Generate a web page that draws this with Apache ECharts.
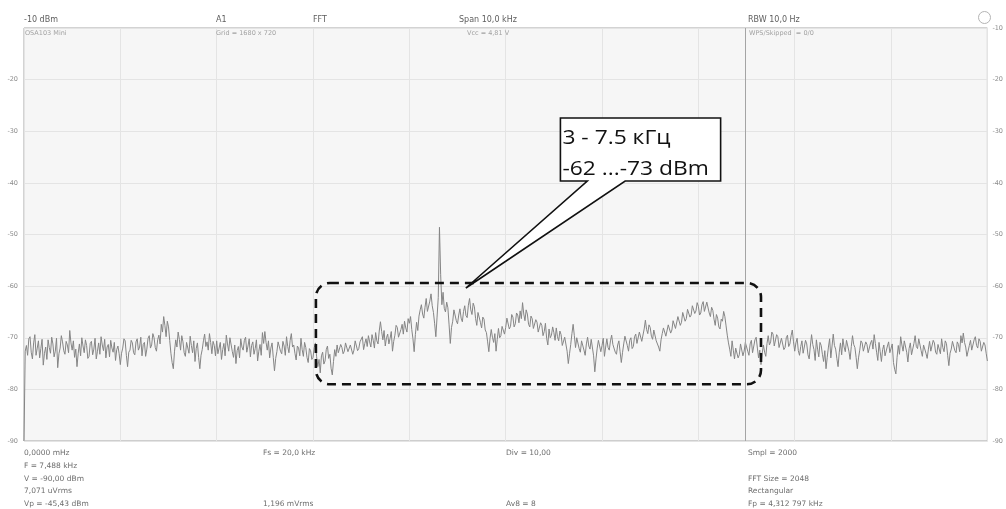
<!DOCTYPE html>
<html>
<head>
<meta charset="utf-8">
<script src="https://cdn.jsdelivr.net/npm/echarts@6/dist/echarts.min.js"></script>
<style>
  html, body { margin: 0; padding: 0; background: #ffffff; }
  #chart { width: 1006px; height: 509px; }
</style>
</head>
<body>
<div id="chart"></div>
<script>
// FFT spectrum, 0 ... 10 kHz, one level (dBm) per 12.5 Hz bin
const binStepKHz = 0.0125;
const levelsDbm = [
  -90.0, -72.6, -71.5, -73.4, -70.2, -69.8, -72.8, -74.1, -71.0, -69.4, -73.4, -72.0, -70.6, -73.9, -72.1, -70.3, -75.3, -73.0, -71.8, -74.2,
  -70.4, -71.9, -73.0, -69.9, -71.2, -73.7, -72.6, -70.1, -75.8, -73.1, -72.0, -69.6, -70.8, -72.5, -73.2, -70.7, -71.4, -72.9, -68.6, -71.0,
  -72.4, -70.6, -73.8, -72.2, -75.6, -73.0, -71.2, -73.5, -70.0, -71.6, -72.9, -70.4, -71.5, -74.0, -73.6, -71.1, -70.7, -73.3, -72.2, -70.1,
  -74.1, -72.6, -71.0, -73.2, -69.8, -71.4, -72.5, -70.3, -73.9, -71.8, -71.3, -73.7, -70.5, -72.0, -72.8, -70.9, -74.4, -72.3, -71.6, -73.1,
  -75.2, -73.0, -72.0, -70.2, -70.6, -73.4, -75.6, -72.8, -72.4, -70.5, -71.0, -72.9, -73.3, -70.8, -70.2, -72.4, -71.8, -69.9, -73.5, -71.3,
  -70.9, -73.6, -72.2, -70.1, -69.6, -72.0, -71.4, -69.2, -70.0, -71.9, -72.6, -70.4, -69.5, -71.2, -67.4, -68.9, -65.9, -67.6, -69.8, -66.8,
  -67.9, -70.5, -73.0, -74.8, -76.0, -72.6, -70.4, -71.8, -68.9, -70.3, -72.4, -69.6, -70.8, -72.9, -73.6, -70.9, -71.2, -73.0, -69.7, -71.5,
  -72.9, -70.6, -74.6, -72.1, -71.0, -73.8, -76.0, -73.4, -72.3, -70.6, -69.3, -71.7, -70.8, -72.4, -69.2, -70.9, -73.1, -70.7, -71.5, -73.5,
  -70.6, -73.1, -72.8, -70.9, -74.2, -72.3, -71.1, -73.5, -69.5, -71.2, -72.6, -70.0, -70.3, -72.7, -73.8, -71.4, -75.0, -72.5, -71.7, -73.9,
  -70.2, -71.8, -72.4, -70.5, -69.9, -72.8, -71.6, -70.2, -73.7, -71.5, -70.8, -73.2, -72.1, -70.4, -74.5, -72.6, -71.3, -73.4, -69.0, -71.1,
  -68.8, -70.9, -72.4, -70.6, -73.9, -72.0, -71.0, -73.8, -76.4, -74.0, -72.7, -70.8, -70.5, -72.6, -73.1, -70.7, -71.6, -73.4, -69.8, -71.7,
  -72.9, -70.5, -69.2, -71.8, -71.4, -73.0, -74.3, -71.6, -72.0, -73.5, -70.1, -72.3, -73.6, -70.9, -71.9, -73.8, -74.8, -72.1, -72.5, -74.2,
  -73.8, -71.9, -71.0, -73.7, -75.6, -74.2, -76.8, -73.5, -72.8, -75.1, -74.5, -72.3, -71.6, -74.0, -73.2, -75.9, -77.2, -74.6, -72.3, -73.6,
  -71.4, -72.9, -72.8, -71.3, -71.9, -73.1, -72.6, -71.0, -71.2, -72.7, -73.0, -71.4, -71.7, -73.2, -72.4, -70.6, -70.9, -72.5, -72.1, -70.8,
  -71.0, -69.8, -72.3, -71.1, -70.2, -71.7, -69.6, -70.8, -71.8, -69.4, -70.5, -72.0, -69.0, -70.6, -71.2, -68.7, -66.9, -68.8, -70.4, -68.6,
  -71.6, -70.0, -69.3, -71.2, -70.1, -68.8, -72.6, -70.7, -69.5, -67.6, -68.0, -69.9, -70.2, -68.4, -67.4, -69.3, -66.8, -68.1, -68.9, -66.3,
  -67.2, -65.9, -68.4, -70.2, -72.7, -69.4, -67.0, -68.6, -65.8, -64.6, -63.6, -65.4, -66.2, -64.1, -62.4, -64.9, -64.8, -62.9, -61.5, -63.8,
  -65.1, -67.3, -69.8, -66.0, -62.2, -48.6, -57.8, -63.6, -61.2, -64.3, -65.0, -63.1, -64.2, -67.5, -71.1, -68.0, -66.8, -64.6, -64.9, -66.7,
  -67.3, -65.6, -64.4, -66.2, -66.9, -64.9, -63.8, -65.7, -66.1, -63.7, -62.4, -64.6, -65.5, -63.3, -64.0, -66.3, -67.6, -65.1, -65.2, -67.0,
  -68.1, -66.0, -66.4, -68.5, -69.0, -70.8, -72.7, -70.1, -68.4, -69.9, -70.9, -69.2, -72.6, -70.3, -68.2, -70.0, -69.6, -67.8, -67.5, -69.3,
  -68.0, -66.2, -66.5, -68.3, -67.8, -65.5, -66.0, -67.9, -67.3, -65.2, -65.6, -67.1, -64.8, -66.3, -63.2, -65.4, -66.7, -64.6, -65.4, -67.4,
  -67.9, -65.8, -66.3, -68.2, -68.4, -66.5, -67.0, -68.9, -69.2, -67.1, -67.6, -69.6, -68.8, -67.2, -70.1, -71.4, -68.3, -70.0, -69.5, -67.9,
  -69.0, -70.5, -68.1, -69.8, -70.6, -68.7, -69.4, -71.5, -71.8, -69.9, -70.2, -72.6, -75.0, -73.1, -71.3, -69.2, -67.4, -69.6, -71.9, -70.0,
  -70.3, -72.1, -72.8, -70.6, -70.8, -72.4, -73.4, -71.2, -69.9, -71.6, -72.2, -70.3, -70.6, -73.5, -76.6, -74.1, -72.0, -70.5, -70.4, -72.7,
  -71.5, -70.1, -73.6, -71.8, -70.2, -71.9, -72.4, -70.6, -69.5, -71.3, -71.0, -72.8, -73.2, -71.4, -70.6, -72.7, -74.8, -72.9, -71.2, -69.7,
  -69.8, -71.5, -72.6, -70.5, -70.0, -72.1, -71.7, -69.8, -69.3, -71.1, -70.9, -68.9, -68.6, -70.7, -70.4, -68.3, -66.6, -68.4, -69.2, -67.5,
  -68.0, -69.7, -70.3, -68.5, -68.7, -70.6, -70.9, -71.8, -72.6, -70.4, -69.2, -68.1, -67.8, -69.7, -69.6, -67.5, -67.3, -69.1, -68.5, -66.7,
  -66.4, -68.2, -67.9, -65.9, -65.8, -67.6, -67.0, -65.1, -64.9, -66.8, -66.3, -64.5, -64.2, -66.0, -65.6, -63.8, -63.5, -65.3, -64.8, -63.2,
  -63.9, -65.6, -65.2, -63.6, -63.0, -64.9, -64.6, -63.1, -63.4, -65.2, -65.9, -64.1, -64.7, -66.4, -67.6, -65.5, -66.2, -67.9, -68.3, -66.4,
  -66.8, -64.9, -65.9, -67.7, -69.5, -71.0, -72.2, -73.6, -70.6, -72.4, -74.1, -72.0, -71.8, -73.9, -73.3, -71.2, -71.4, -73.5, -72.6, -70.9,
  -71.0, -72.6, -73.4, -71.2, -70.5, -72.9, -72.8, -70.4, -69.9, -72.0, -73.9, -72.4, -75.2, -73.0, -71.4, -72.8, -73.6, -71.1, -69.6, -71.4,
  -70.8, -68.9, -69.3, -71.6, -71.5, -69.4, -69.8, -71.9, -72.0, -70.1, -70.2, -72.3, -71.9, -70.0, -69.5, -71.7, -71.2, -69.6, -68.5, -70.8,
  -72.6, -71.0, -70.1, -72.5, -73.4, -71.7, -70.6, -73.0, -72.9, -70.5, -71.2, -73.3, -74.1, -71.6, -69.4, -71.3, -72.3, -74.4, -70.4, -72.2,
  -73.7, -70.9, -71.5, -73.2, -74.6, -72.5, -76.0, -73.8, -71.8, -70.2, -73.9, -71.6, -69.3, -71.5, -72.2, -74.0, -75.6, -72.8, -71.0, -73.3,
  -70.2, -71.8, -72.7, -70.5, -70.8, -72.6, -74.2, -71.7, -69.6, -71.3, -71.9, -73.8, -76.0, -73.9, -72.4, -70.6, -71.0, -72.6, -72.5, -70.8,
  -71.3, -72.9, -73.1, -71.0, -70.5, -72.2, -69.4, -71.1, -72.8, -74.4, -70.9, -72.7, -74.6, -72.3, -71.4, -73.5, -73.8, -71.6, -70.8, -72.9,
  -72.9, -71.2, -74.8, -76.1, -77.0, -73.8, -71.5, -73.2, -69.8, -71.4, -72.6, -70.6, -70.4, -72.8, -74.7, -72.1, -71.0, -73.3, -73.4, -71.1,
  -69.6, -71.7, -72.1, -70.2, -70.3, -72.5, -73.6, -71.4, -71.2, -73.0, -74.0, -72.2, -70.7, -72.6, -72.4, -70.5, -71.0, -72.8, -73.2, -71.3,
  -71.6, -73.1, -70.2, -71.9, -72.7, -70.6, -71.1, -73.4, -75.4, -73.0, -72.2, -70.7, -70.6, -72.5, -72.9, -70.8, -71.3, -72.7, -69.6, -71.0,
  -69.1, -70.9, -71.8, -73.6, -73.4, -71.5, -70.5, -72.4, -72.3, -70.4, -69.8, -71.5, -72.0, -70.2, -70.7, -72.6, -72.5, -70.9, -71.4, -73.0,
  -74.5
];

// Axis scales
const freqRangeKHz = [0, 10];
const freqStepKHz = 1;
const levelRangeDbm = [-90, -10];
const levelStepDbm = 10;

// Marker cursor frequency
const cursorKHz = 7.488;

// Highlighted band and its callout
const bandKHz = [3.03, 7.65];
const bandDbm = [-59.4, -79.0];
const calloutText = ['3 - 7.5 кГц', '-62 ...-73 dBm'];

// Instrument status texts
const headerRow = ['-10 dBm', 'A1', 'FFT', 'Span 10,0 kHz', 'RBW 10,0 Hz'];
const infoRow = ['OSA103 Mini', 'Grid = 1680 x 720', 'Vcc = 4,81 V', 'WPS/Skipped  = 0/0'];
const footerCol1 = ['0,0000 mHz', 'F = 7,488 kHz', 'V = -90,00 dBm', '7,071 uVrms', 'Vp = -45,43 dBm'];
const footerCol2 = ['Fs = 20,0 kHz', '', '', '', '1,196 mVrms'];
const footerCol3 = ['Div = 10,00', '', '', '', 'Av8 = 8'];
const footerCol4 = ['Smpl = 2000', '', 'FFT Size = 2048', 'Rectangular', 'Fp = 4,312 797 kHz'];

const points = levelsDbm.map((v, i) => [+(i * binStepKHz).toFixed(4), v]);

const chart = echarts.init(document.getElementById('chart'), null, { renderer: 'canvas' });

const smallFont = '"DejaVu Sans", Verdana, sans-serif';
const tickLabel = { color: '#8c8c8c', fontSize: 6.5, fontFamily: smallFont };

chart.setOption({
  animation: false,
  backgroundColor: '#ffffff',
  grid: {
    left: 24, right: 14, top: 28, bottom: 68,
    show: true, backgroundColor: '#f6f6f6', borderColor: '#a6a6a6', borderWidth: 1
  },
  xAxis: {
    type: 'value', min: freqRangeKHz[0], max: freqRangeKHz[1], interval: freqStepKHz,
    axisLine: { show: false }, axisTick: { show: false }, axisLabel: { show: false },
    splitLine: { show: true, lineStyle: { color: '#e4e4e4', width: 1 } }
  },
  yAxis: [
    {
      type: 'value', position: 'left', min: levelRangeDbm[0], max: levelRangeDbm[1], interval: levelStepDbm,
      axisLine: { show: false }, axisTick: { show: false },
      axisLabel: Object.assign({ margin: 6, formatter: v => (v === levelRangeDbm[1] ? '' : String(v)) }, tickLabel),
      splitLine: { show: true, lineStyle: { color: '#e4e4e4', width: 1 } }
    },
    {
      type: 'value', position: 'right', min: levelRangeDbm[0], max: levelRangeDbm[1], interval: levelStepDbm,
      axisLine: { show: false }, axisTick: { show: false },
      axisLabel: Object.assign({ margin: 5, formatter: v => String(v) }, tickLabel),
      splitLine: { show: false }
    }
  ],
  series: [{
    type: 'line',
    data: points,
    showSymbol: false,
    silent: true,
    lineStyle: { color: '#858585', width: 1 },
    markLine: {
      silent: true, symbol: 'none', label: { show: false },
      lineStyle: { color: '#a4a4a4', type: 'solid', width: 1 },
      data: [{ xAxis: cursorKHz }]
    }
  }]
});

const px = (f, v) => chart.convertToPixel({ xAxisIndex: 0, yAxisIndex: 0 }, [f, v]);

// Dashed band outline
const b1 = px(bandKHz[0], bandDbm[0]);
const b2 = px(bandKHz[1], bandDbm[1]);

// Callout box with a pointer to the band
const cTL = px(5.568, -27.43);
const cBR = px(7.231, -39.64);
const cTip = px(4.587, -60.36);
const wL = px(5.847, -39.64);
const wR = px(6.240, -39.64);

const graphics = [];

graphics.push({
  type: 'rect', silent: true, z: 50,
  shape: { x: b1[0], y: b1[1], width: b2[0] - b1[0], height: b2[1] - b1[1], r: 14 },
  style: { fill: 'none', stroke: '#111111', lineWidth: 2.6, lineDash: [9, 6] }
});

graphics.push({
  type: 'polygon', silent: true, z: 51,
  shape: {
    points: [
      [cTL[0], cTL[1]], [cBR[0], cTL[1]], [cBR[0], cBR[1]],
      [wR[0], wR[1]], [cTip[0], cTip[1]], [wL[0], wL[1]], [cTL[0], cBR[1]]
    ]
  },
  style: { fill: '#ffffff', stroke: '#111111', lineWidth: 1.6, lineJoin: 'miter' }
});

calloutText.forEach((t, i) => {
  graphics.push({
    type: 'text', silent: true, z: 52,
    x: cTL[0] + 2, y: cTL[1] + 20 + i * 31, scaleX: 1.14,
    style: {
      text: t, fill: '#111111', font: '20px "Open Sans", sans-serif',
      verticalAlign: 'middle', align: 'left'
    }
  });
});

// Status line above the plot
const headerX = [24, 216, 313, 459, 748];
headerRow.forEach((t, i) => {
  graphics.push({
    type: 'text', silent: true, z: 20, x: headerX[i], y: 20,
    style: { text: t, fill: '#5e5e5e', font: '8px ' + smallFont, verticalAlign: 'middle' }
  });
});

const infoX = [25, 216, 467, 749];
infoRow.forEach((t, i) => {
  graphics.push({
    type: 'text', silent: true, z: 20, x: infoX[i], y: 33.5,
    style: { text: t, fill: '#a2a2a2', font: '6.5px ' + smallFont, verticalAlign: 'middle' }
  });
});

graphics.push({
  type: 'circle', silent: true, z: 20,
  shape: { cx: 984.5, cy: 17.5, r: 6 },
  style: { fill: '#ffffff', stroke: '#b4b4b4', lineWidth: 1 }
});

// Readouts below the plot
const footerCols = [footerCol1, footerCol2, footerCol3, footerCol4];
const footerX = [24, 263, 506, 748];
const footerY = [453.5, 466, 478.7, 491.5, 504.2];
footerCols.forEach((col, c) => {
  col.forEach((t, r) => {
    if (!t) return;
    graphics.push({
      type: 'text', silent: true, z: 20, x: footerX[c], y: footerY[r],
      style: { text: t, fill: '#6e6e6e', font: '7.5px ' + smallFont, verticalAlign: 'middle' }
    });
  });
});

chart.setOption({ graphic: graphics });
</script>
</body>
</html>
